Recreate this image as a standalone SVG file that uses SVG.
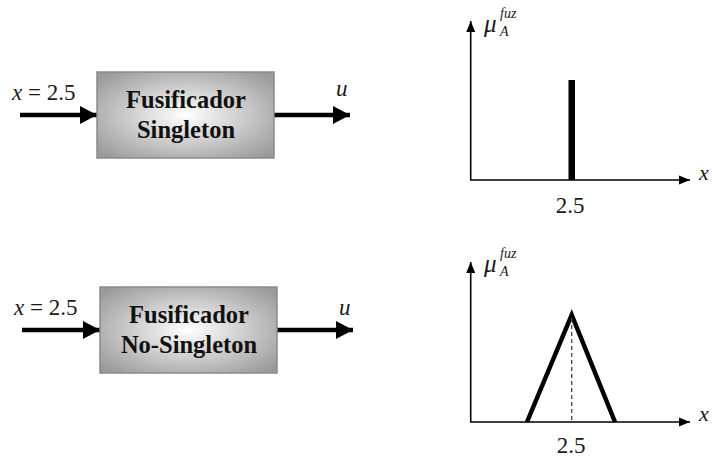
<svg xmlns="http://www.w3.org/2000/svg" width="712" height="458" viewBox="0 0 712 458">
<style>
.box{fill:url(#g);stroke:#8a8a8a;stroke-width:1.5}
.bt{font-family:"Liberation Serif",serif;font-weight:bold;font-size:24.5px;fill:#111;text-anchor:middle}
.t{font-family:"Liberation Serif",serif;font-size:23px;fill:#1a1a1a}
.i{font-style:italic}
.sm{font-family:"Liberation Serif",serif;font-style:italic;fill:#1a1a1a}
.thick{stroke:#000;stroke-width:4.5;fill:none}
.ax{stroke:#000;stroke-width:1.6;fill:none}
</style>
<defs>
<radialGradient id="g" cx="50%" cy="50%" r="65%">
<stop offset="0" stop-color="#ffffff"/>
<stop offset="1" stop-color="#9a9a9a"/>
</radialGradient>
<marker id="big" markerUnits="userSpaceOnUse" markerWidth="18" markerHeight="20" refX="17" refY="10" orient="auto">
<path d="M0,1 L17,10 L0,19 Z" fill="#000"/>
</marker>
<marker id="sm" markerUnits="userSpaceOnUse" markerWidth="12" markerHeight="10" refX="11" refY="5" orient="auto">
<path d="M0,0.5 L11,5 L0,9.5 Z" fill="#000"/>
</marker>
</defs>

<g id="connectors">
<line class="thick" x1="20" y1="115" x2="97" y2="115" marker-end="url(#big)"/>
<line class="thick" x1="274" y1="115" x2="350" y2="115" marker-end="url(#big)"/>
<line class="thick" x1="22" y1="330" x2="100" y2="330" marker-end="url(#big)"/>
<line class="thick" x1="277" y1="330" x2="353" y2="330" marker-end="url(#big)"/>
</g>

<g id="fus-singleton">
<rect class="box" x="97" y="72" width="177" height="86"/>
<text class="bt" x="186" y="108">Fusificador</text>
<text class="bt" x="186" y="138">Singleton</text>
</g>

<g id="fus-nosingleton">
<rect class="box" x="100" y="287" width="177" height="86"/>
<text class="bt" x="189" y="323">Fusificador</text>
<text class="bt" x="189" y="353">No-Singleton</text>
</g>

<g id="labels-top">
<text class="t" x="12" y="100"><tspan class="i">x</tspan> = 2.5</text>
<text class="t i" x="336" y="96">u</text>
</g>
<g id="labels-bottom">
<text class="t" x="14" y="315"><tspan class="i">x</tspan> = 2.5</text>
<text class="t i" x="339" y="315">u</text>
</g>

<g id="graph-top">
<line class="ax" x1="470.7" y1="180" x2="470.7" y2="21" marker-end="url(#sm)"/>
<line class="ax" x1="470" y1="180" x2="690" y2="180" marker-end="url(#sm)"/>
<rect x="568.5" y="80" width="6.5" height="100" fill="#000"/>
<text class="sm" x="484" y="32" font-size="25">μ</text>
<text class="sm" x="500" y="36" font-size="14">A</text>
<text class="sm" x="500" y="18" font-size="14">fuz</text>
<text class="sm" x="699" y="180" font-size="22">x</text>
<text class="t" x="570" y="213" text-anchor="middle">2.5</text>
</g>

<g id="graph-bottom">
<line class="ax" x1="470.7" y1="422" x2="470.7" y2="262" marker-end="url(#sm)"/>
<line class="ax" x1="470" y1="422" x2="690" y2="422" marker-end="url(#sm)"/>
<polyline points="527,422 571.7,315 615,422" fill="none" stroke="#000" stroke-width="4.5" stroke-linejoin="miter"/>
<line x1="571.7" y1="318" x2="571.7" y2="421" stroke="#444" stroke-width="1.3" stroke-dasharray="4,3"/>
<text class="sm" x="484" y="272" font-size="25">μ</text>
<text class="sm" x="500" y="276" font-size="14">A</text>
<text class="sm" x="500" y="258" font-size="14">fuz</text>
<text class="sm" x="699" y="421" font-size="22">x</text>
<text class="t" x="571" y="453" text-anchor="middle">2.5</text>
</g>
</svg>
